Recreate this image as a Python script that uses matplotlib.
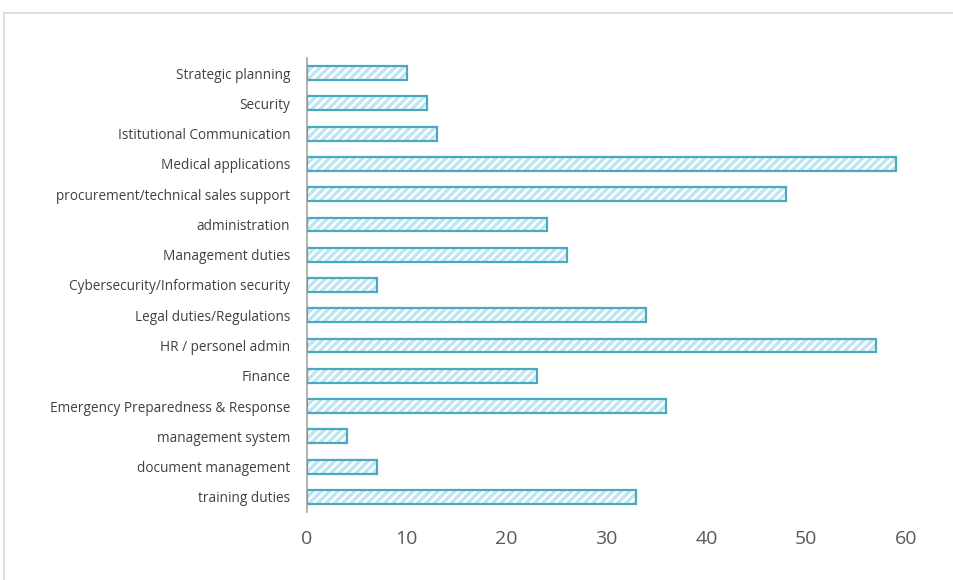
import matplotlib.pyplot as plt
from matplotlib.lines import Line2D

categories = [
    "Strategic planning",
    "Security",
    "Istitutional Communication",
    "Medical applications",
    "procurement/technical sales support",
    "administration",
    "Management duties",
    "Cybersecurity/Information security",
    "Legal duties/Regulations",
    "HR / personel admin",
    "Finance",
    "Emergency Preparedness & Response",
    "management system",
    "document management",
    "training duties",
]
values = [10, 12, 13, 59, 48, 24, 26, 7, 34, 57, 23, 36, 4, 7, 33]
xticks = [0, 10, 20, 30, 40, 50, 60]

plt.rcParams['font.family'] = ['Open Sans', 'DejaVu Sans']
plt.rcParams['hatch.linewidth'] = 1.8

fig = plt.figure(figsize=(9.54, 5.8), dpi=100)
ax = fig.add_axes([307 / 954, 1 - 512 / 580, (906 - 307) / 954, (512 - 58) / 580])

ypos = list(range(len(categories)))[::-1]
ax.barh(ypos, values, height=0.46, color="#bfe6f0", edgecolor="white",
        hatch="////", linewidth=0, zorder=2)
ax.barh(ypos, values, height=0.46, color="none", edgecolor="#4aa9c0",
        linewidth=1.6, zorder=3)

ax.set_xlim(0, 60)
ax.set_ylim(-0.5, len(categories) - 0.5)
ax.set_yticks(ypos)
ax.set_yticklabels(categories, fontsize=9.8, color="#404040")
ax.set_xticks(xticks)
ax.set_xticklabels([str(t) for t in xticks], fontsize=14, color="#595959")
ax.tick_params(axis="both", length=0)
ax.tick_params(axis="x", pad=13)
ax.tick_params(axis="y", pad=12)
for s in ["top", "right", "bottom"]:
    ax.spines[s].set_visible(False)
ax.spines["left"].set_color("#a6a6a6")
ax.spines["left"].set_linewidth(1.2)

# outer chart frame
fig.add_artist(Line2D([4 / 954, 1], [1 - 13 / 580] * 2, color="#d9d9d9",
                      lw=1.2, transform=fig.transFigure))
fig.add_artist(Line2D([4 / 954] * 2, [0, 1 - 13 / 580], color="#d9d9d9",
                      lw=1.2, transform=fig.transFigure))

fig.savefig("out.png", dpi=100)
